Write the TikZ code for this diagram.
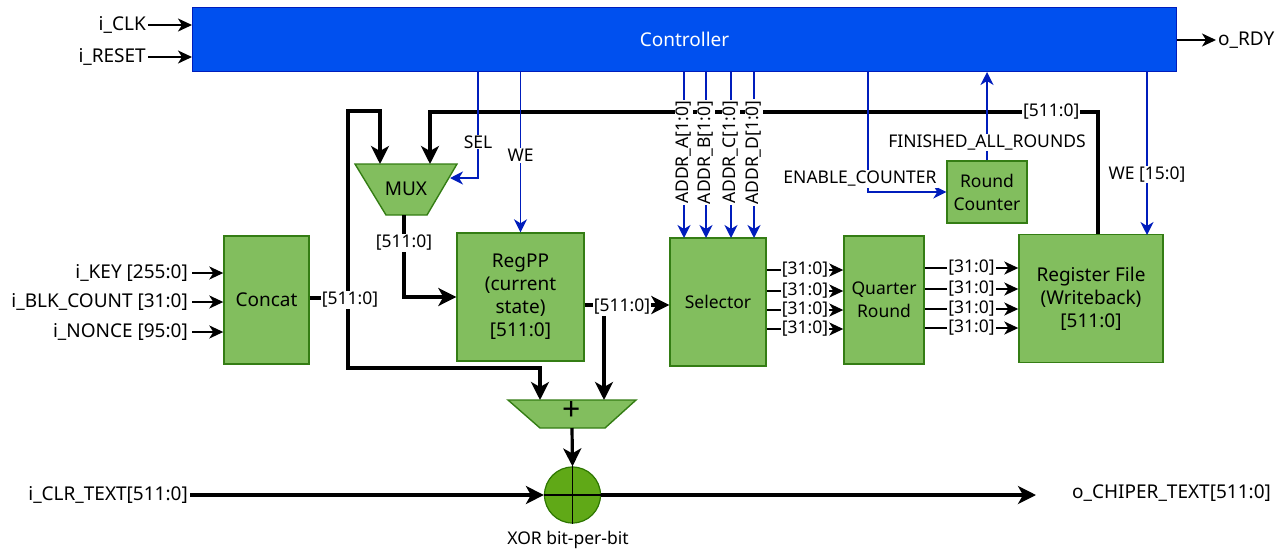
\documentclass[tikz,border=0pt]{standalone}
\usepackage{fontspec}
\setmainfont{Noto Sans}
\usetikzlibrary{arrows.meta}
\definecolor{ctlfill}{RGB}{0,80,239}
\definecolor{ctlline}{RGB}{0,29,188}
\definecolor{gfill}{RGB}{130,190,94}
\definecolor{gline}{RGB}{52,125,20}
\definecolor{xfill}{RGB}{96,169,23}
\definecolor{xline}{RGB}{45,118,0}

\begin{document}
\begin{tikzpicture}[x=1pt, y=-1pt,
  every node/.style={font=\fontsize{17.5}{23}\selectfont, inner sep=2pt},
  big/.style={font=\fontsize{19}{23}\selectfont},
  blk/.style={draw=gline, fill=gfill, line width=1.4pt, align=center},
  bus/.style={line width=3.2pt, -{Stealth[length=18pt, width=18pt, inset=5pt]}},
  wire/.style={line width=1.8pt, -{Stealth[length=14pt, width=13pt, inset=4pt]}},
  ctl/.style={draw=ctlline, line width=1.6pt, -{Stealth[length=13pt, width=13pt, inset=4pt]}},
  lbl/.style={fill=white, inner sep=1pt}]
  \useasboundingbox (0,0) rectangle (1283,552);

  % controller and its pins
  \node[big, draw=ctlline, fill=ctlfill, line width=1pt, text=white, minimum width=984pt, minimum height=64pt] (ctrl) at (684.5,39.5) {Controller};
  \node[big, anchor=east] (clk) at (148,25) {i\_CLK};
  \node[big, anchor=east] (rst) at (148,57) {i\_RESET};
  \node[big, anchor=west] (rdy) at (1216,40) {o\_RDY};
  \draw[wire] (clk.east) -- (clk -| ctrl.west);
  \draw[wire] (rst.east) -- (rst -| ctrl.west);
  \draw[wire] (ctrl.east |- rdy) -- (rdy.west);

  % blocks
  \node[blk, big, minimum width=85pt, minimum height=128pt] (concat) at (266.5,300) {Concat};
  \node[blk, big, minimum width=127pt, minimum height=128pt] (regpp) at (520.5,297) {RegPP\\(current\\state)\\{[511:0]}};
  \node[blk, minimum width=96pt, minimum height=128pt] (sel) at (718,302) {Selector};
  \node[blk, minimum width=80pt, minimum height=128pt] (qr) at (884,300) {Quarter\\Round};
  \node[blk, big, minimum width=144pt, minimum height=128pt] (rf) at (1091,298.5) {Register File\\(Writeback)\\{[511:0]}};
  \node[blk, minimum width=80pt, minimum height=62pt] (rc) at (987,192) {Round\\Counter};

  % mux and adder
  \draw[blk] (355,164) -- (457,164) -- (427,215) -- (386,215) -- cycle;
  \node[big] (mux) at (406,189) {MUX};
  \draw[blk] (508,400) -- (636,400) -- (605,428) -- (540,428) -- cycle;
  \node[font=\fontsize{32}{32}\selectfont\bfseries] (add) at (572,411) {+};
  \node[circle, draw=xline, fill=xfill, line width=1.2pt, minimum size=56pt, inner sep=0pt] (xor) at (572.5,495) {};
  \draw[line width=1.5pt] (xor.north) -- (xor.south) (xor.west) -- (xor.east);
  \node (xorlbl) at (568,540) {XOR bit-per-bit};

  % concat inputs
  \foreach \n/\t/\y in {key/i\_KEY [255:0]/273, blk/i\_BLK\_COUNT [31:0]/302, non/i\_NONCE [95:0]/332} {
    \node[big, anchor=east] (in\n) at (190,\y) {\t};
    \draw[wire, shorten <=2pt] (in\n.east) -- (in\n.east -| concat.west);
  }

  % datapath coordinates
  \coordinate (j1) at (348,298);
  \coordinate (lt) at (348,111);
  \coordinate (lb) at (348,368);
  \coordinate (muxa) at (380,164);
  \coordinate (muxb) at (430,164);
  \coordinate (muxo) at (404,215);
  \coordinate (j2) at (604,305);
  \coordinate (adda) at (540,400);
  \coordinate (addb) at (604,400);
  \coordinate (addo) at (572,428);
  \coordinate (fbtop) at (1098,112);
  \coordinate (ctend) at (1036,495);

  % 512-bit buses
  \draw[line width=3.2pt] (concat.east |- j1) -- (j1);
  \draw[bus] (j1) -- (lt) -| (muxa);
  \draw[bus] (j1) -- (lb) -| (adda);
  \draw[bus] (muxo) |- node[lbl, pos=0.17] {[511:0]} (regpp.west);
  \draw[line width=3.2pt] (regpp.east |- j2) -- (j2);
  \draw[bus] (j2) -- (sel.west |- j2);
  \draw[bus] (j2) -- (addb);
  \draw[bus] (rf.north -| fbtop) -- (fbtop) -- node[lbl, pos=0.07] {[511:0]} (fbtop -| muxb) -- (muxb);
  \node[lbl] (j1lbl) at (350,300) {[511:0]};
  \node[lbl] (j2lbl) at (622,307) {[511:0]};
  \draw[bus] (addo) -- (xor.north);

  % 32-bit words
  \foreach \a/\b in {270/268, 291/289, 310/309, 329/328} {
    \coordinate (s) at (0,\a);
    \coordinate (q) at (0,\b);
    \draw[wire] (sel.east |- s) -- node[lbl] {[31:0]} (qr.west |- s);
    \draw[wire] (qr.east |- q) -- node[lbl] {[31:0]} (rf.west |- q);
  }

  % plain text in and out
  \node[big, anchor=east] (clr) at (190,495) {i\_CLR\_TEXT[511:0]};
  \node[big, anchor=west] (ct) at (1070,493) {o\_CHIPER\_TEXT[511:0]};
  \draw[bus] (clr.east) -- (xor.west);
  \draw[bus] (xor.east) -- (ctend);

  % control signals
  \coordinate (selbend) at (478,178);
  \coordinate (muxsel) at (450,178);
  \draw[ctl] (ctrl.south -| selbend) -- node[lbl, pos=0.66] {SEL} (selbend) -- (muxsel);
  \draw[ctl] (ctrl.south -| regpp.north) -- node[lbl, pos=0.52] {WE} (regpp.north);
  \foreach \x/\n in {684/A, 706/B, 731/C, 754/D} {
    \coordinate (a\n) at (\x,238);
    \draw[ctl] (ctrl.south -| a\n) -- node[lbl, rotate=90, pos=0.485] {ADDR\_\n[1:0]} (a\n);
  }
  \coordinate (enbend) at (868,192);
  \draw[ctl] (ctrl.south -| enbend) -- (enbend) -- (rc.west);
  \node[lbl] (enlbl) at (860,179) {ENABLE\_COUNTER};
  \draw[ctl] (rc.north) -- node[lbl, pos=0.2] {FINISHED\_ALL\_ROUNDS} (rc.north |- ctrl.south);
  \coordinate (rfwe) at (1147,235);
  \draw[ctl] (ctrl.south -| rfwe) -- node[lbl, pos=0.63] {WE [15:0]} (rfwe);
\end{tikzpicture}
\end{document}
